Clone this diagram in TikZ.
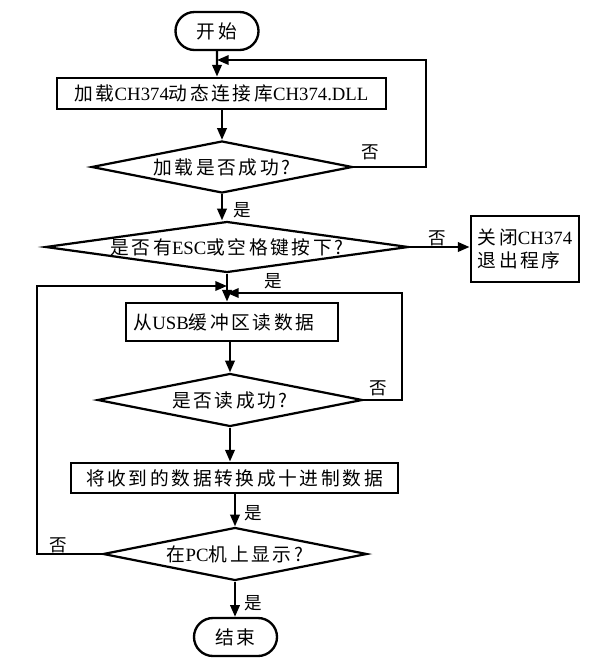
\documentclass[tikz,border=0pt]{standalone}
\usepackage{fontspec}
\setmainfont{Noto Sans CJK SC}[LetterSpace=14]
\newfontfamily\lat{Liberation Serif}
\usetikzlibrary{shapes,arrows.meta}
\usetikzlibrary{positioning}
\usetikzlibrary{calc}

\begin{document}
\begin{tikzpicture}[x=0.03cm,y=-0.03cm,
    every node/.append style={font=\fontsize{16pt}{19pt}\selectfont},
    term/.style={rounded rectangle,draw,line width=2pt,inner sep=0pt,minimum width=2.49cm,minimum height=1.14cm},
    proc/.style={rectangle,draw,line width=2.4pt,inner sep=2pt,minimum height=0.93cm},
    dec/.style={diamond,draw,line width=1.9pt,inner sep=0pt},
    lbl/.style={inner sep=0pt,font=\fontsize{15pt}{17pt}\selectfont},
    flow/.style={-{Triangle[length=10pt,width=8pt]},line width=2pt}]
        \useasboundingbox (0,0) rectangle (599,666);
        \node[term] (st) at (217,31) {开始};
        \node[proc,minimum width=9.87cm] (load) at (221.5,93.5) {加载{\lat CH374}动态连接库{\lat CH374.DLL}};
        \node[dec,minimum width=7.83cm,minimum height=1.56cm,aspect=5] (ok1) at (222,167) {加载是否成功?};
        \node[dec,minimum width=10.89cm,minimum height=1.53cm,aspect=7.1] (key) at (227,247) {是否有{\lat ESC}或空格键按下?};
        \node[proc,minimum width=3.24cm,minimum height=1.98cm,align=left] (quit) at (525,249) {关闭{\lat CH374}\\退出程序};
        \node[proc,minimum width=6.36cm,minimum height=1.14cm,text width=5.9cm,align=left] (read) at (232,322) {从{\lat USB}缓冲区读数据};
        \node[dec,minimum width=7.95cm,minimum height=1.59cm,aspect=5] (ok2) at (230,400) {是否读成功?};
        \node[proc,minimum width=9.81cm,minimum height=0.9cm] (conv) at (234.5,478) {将收到的数据转换成十进制数据};
        \node[dec,minimum width=7.92cm,minimum height=1.59cm,aspect=5] (show) at (235,554) {在{\lat PC}机上显示?};
        \node[term] (stop) at (235.5,637) {结束};
        \coordinate (r1) at (426,60);
        \coordinate (r2) at (402,293);
        \coordinate (l1) at (37,286);
        \draw[flow] (st) -- (st |- load.north);
        \draw[flow] (ok1 |- load.south) -- (ok1.north);
        \draw[flow] (ok1.south) -- (ok1.south |- key.north);
        \draw[flow] (key.south) -- (key.south |- read.north);
        \draw[flow] (ok2 |- read.south) -- (ok2.north);
        \draw[flow] (ok2.south) -- (ok2.south |- conv.north);
        \draw[flow] (show |- conv.south) -- (show.north);
        \draw[flow] (show.south) -- (show.south |- stop.north);
        \draw[flow] (ok1.east) -| (r1) -- (st |- r1);
        \draw[flow] (key.east) -- (key.east -| quit.west);
        \draw[flow] (ok2.east) -| (r2) -- (key.south |- r2);
        \draw[flow] (show.west) -| (l1) -- (key.south |- l1);
        \node[lbl] (n1) at (370,152) {否};
        \node[lbl] (y1) at (242,210) {是};
        \node[lbl] (n2) at (437,238) {否};
        \node[lbl] (y2) at (273,281) {是};
        \node[lbl] (n3) at (378,388) {否};
        \node[lbl] (y3) at (253,513) {是};
        \node[lbl] (n4) at (58,545) {否};
        \node[lbl] (y4) at (253,603) {是};
    \end{tikzpicture}
\end{document}
